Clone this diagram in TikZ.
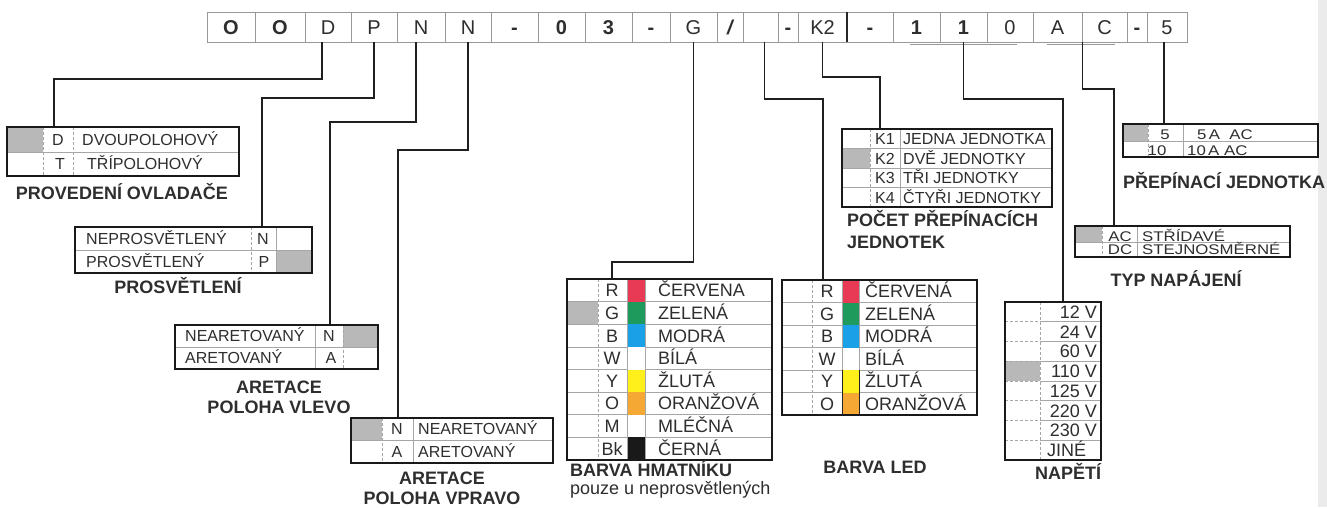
\documentclass[tikz,border=0pt]{standalone}
\usepackage{fontspec}
\setmainfont{Liberation Sans}
\newfontfamily\wideff[FakeStretch=1.2]{Liberation Sans}
\definecolor{swred}{HTML}{E83A55}
\definecolor{swgreen}{HTML}{1E9A5C}
\definecolor{swblue}{HTML}{1AA0E6}
\definecolor{swyellow}{HTML}{FFEF1A}
\definecolor{sworange}{HTML}{F5A833}
\begin{document}
\begin{tikzpicture}[x=1pt,y=-1pt,
  cell/.style={draw=black!40, line width=0.8pt, minimum height=30pt, inner sep=0pt,
    font=\fontsize{20}{20}\selectfont, text height=14.3pt, text depth=0pt, text=black!82},
  tbl/.style={draw=black!90, line width=1.8pt, inner sep=0pt},
  div/.style={draw=black!35, line width=0.7pt},
  ddiv/.style={draw=black!35, line width=0.7pt, densely dashed},
  shade/.style={fill=black!28},
  conn/.style={draw=black!88, line width=1.3pt},
  ttl/.style={font=\bfseries\fontsize{18}{20}\selectfont, text=black!82, inner sep=0pt, text height=12.9pt, text depth=0pt},
  tx/.style={font=\fontsize{16}{16}\selectfont, text=black!82, inner sep=0pt, text height=11.5pt, text depth=0pt},
  tl/.style={font=\fontsize{18}{18}\selectfont, text=black!82, inner sep=0pt, text height=12.9pt, text depth=0pt},
  tw/.style={font=\wideff\fontsize{14}{14}\selectfont, text=black!82, inner sep=0pt, text height=10pt, text depth=0pt},
]
\useasboundingbox (0,0) rectangle (1327,507);
\fill[white] (0,0) rectangle (1327,507);
\fill[black!8] (1318,0) rectangle (1327,507);

% ---------- code bar ----------
\foreach \i/\x/\w/\t in {1/231/48/\textbf{O}, 2/280/50/\textbf{O}, 3/328/46/D, 4/374/46/P,
  5/421/48/N, 6/468/46/N, 7/514.5/47/\textbf{-}, 8/561.5/47/\textbf{0}, 9/608.5/47/\textbf{3},
  10/651/38/\textbf{-}, 11/693.5/47/G, 13/760.5/35/{}, 14/788/20/\textbf{-}, 15/822.5/49/K2,
  16/870/46/\textbf{-}, 17/916.5/47/\textbf{1}, 18/963.5/47/\textbf{1}, 19/1010/46/0,
  20/1057.5/49/A, 21/1104.5/45/C, 22/1137/20/\textbf{-}, 23/1167/40/5}
  \node[cell, minimum width=\w pt] (c\i) at (\x,27) {\t};
\node[cell, minimum width=26pt] (c12) at (730,27) {\bfseries\itshape /};
\draw[black!85, line width=1.6pt] (847,12) -- (847,42);
\draw[black!40, line width=0.8pt] (910,44.5) -- (1017,44.5);
\draw[black!40, line width=0.8pt] (1047,44) -- (1115,44);

% ---------- T1 PROVEDENI OVLADACE ----------
\fill[shade] (8,128) rectangle (43,152);
\draw[div] (7,152) -- (239,152);
\draw[ddiv] (43,127) -- (43,176);
\draw[ddiv] (73,127) -- (73,176);
\node[tbl, minimum width=232pt, minimum height=49pt] (t1) at (123,151.5) {};
\node[tx] (t1a) at (58,139.5) {D};
\node[tx] (t1b) at (60,164) {T};
\node[tx, anchor=west] (t1c) at (82,139.5) {DVOUPOLOHOVÝ};
\node[tx, anchor=west] (t1d) at (87,164) {TŘÍPOLOHOVÝ};
\node[ttl] (h1) at (122,193) {PROVEDENÍ OVLADAČE};

% ---------- T2 PROSVETLENI ----------
\fill[shade] (276,251) rectangle (311,272);
\draw[div] (75,250) -- (312,250);
\draw[ddiv] (251,227) -- (251,273);
\draw[div] (276,227) -- (276,273);
\node[tbl, minimum width=237pt, minimum height=46pt] (t2) at (193.5,250) {};
\node[tx, anchor=west] (t2a) at (86,238.5) {NEPROSVĚTLENÝ};
\node[tx, anchor=west] (t2b) at (86,261.5) {PROSVĚTLENÝ};
\node[tx] (t2c) at (263,238.5) {N};
\node[tx] (t2d) at (264,261.5) {P};
\node[ttl] (h2) at (178,287) {PROSVĚTLENÍ};

% ---------- T3 ARETACE VLEVO ----------
\fill[shade] (343,326) rectangle (377,347);
\draw[div] (175,347) -- (378,347);
\draw[div] (315,325) -- (315,369);
\draw[ddiv] (343,325) -- (343,369);
\node[tbl, minimum width=203pt, minimum height=44pt] (t3) at (276.5,347) {};
\node[tx, anchor=west] (t3a) at (185,336) {NEARETOVANÝ};
\node[tx, anchor=west] (t3b) at (185,358) {ARETOVANÝ};
\node[tx] (t3c) at (329,336) {N};
\node[tx] (t3d) at (331,358) {A};
\node[ttl] (h3a) at (279,387) {ARETACE};
\node[ttl] (h3b) at (279,407) {POLOHA VLEVO};

% ---------- T4 ARETACE VPRAVO ----------
\fill[shade] (352,419) rectangle (382,440);
\draw[div] (351,440) -- (553,440);
\draw[ddiv] (382,418) -- (382,463);
\draw[div] (413,418) -- (413,463);
\node[tbl, minimum width=202pt, minimum height=45pt] (t4) at (452,440.5) {};
\node[tx] (t4a) at (397,429) {N};
\node[tx] (t4b) at (397,451.5) {A};
\node[tx, anchor=west] (t4c) at (418,429) {NEARETOVANÝ};
\node[tx, anchor=west] (t4d) at (418,451.5) {ARETOVANÝ};
\node[ttl] (h4a) at (442,478) {ARETACE};
\node[ttl] (h4b) at (442,498) {POLOHA VPRAVO};

% ---------- T5 BARVA HMATNIKU ----------
\fill[shade] (568,301.6) rectangle (598,324.2);
\foreach \k in {1,...,7} \draw[div] (567,{279+\k*22.625}) -- (772,{279+\k*22.625});
\draw[ddiv] (598,279) -- (598,460);
\foreach \k/\c in {0/swred, 1/swgreen, 2/swblue, 3/white, 4/swyellow, 5/sworange, 6/white, 7/black!90}
  \fill[\c] (627,{279+\k*22.625}) rectangle (645,{279+(\k+1)*22.625});
\draw[div] (627,279) -- (627,460);
\draw[div] (645,279) -- (645,460);
\node[tbl, minimum width=205pt, minimum height=181pt] (t5) at (669.5,369.5) {};
\foreach \k/\l/\t in {0/R/ČERVENA, 1/G/ZELENÁ, 2/B/MODRÁ, 3/W/BÍLÁ, 4/Y/ŽLUTÁ,
  5/O/ORANŽOVÁ, 6/M/MLÉČNÁ, 7/Bk/ČERNÁ} {
  \node[tl] (t5l\k) at (612,{279+(\k+0.5)*22.625}) {\l};
  \node[tl, anchor=west] (t5t\k) at (658,{279+(\k+0.5)*22.625}) {\t};
}
\node[ttl, anchor=west] (h5) at (570,470) {BARVA HMATNÍKU};
\node[tl, anchor=west] (h5b) at (570,488) {pouze u neprosvětlených};

% ---------- T6 BARVA LED ----------
\foreach \k in {1,...,5} \draw[div] (782,{280+\k*22.5}) -- (977,{280+\k*22.5});
\draw[ddiv] (812,280) -- (812,415);
\foreach \k/\c in {0/swred, 1/swgreen, 2/swblue, 3/white, 4/swyellow, 5/sworange}
  \fill[\c] (842,{280+\k*22.5}) rectangle (859,{280+(\k+1)*22.5});
\draw[div] (842,280) -- (842,415);
\draw[div] (859,280) -- (859,415);
\draw[black!85, line width=1pt] (842,370) -- (842,415) (859,370) -- (859,415);
\node[tbl, minimum width=195pt, minimum height=135pt] (t6) at (879.5,347.5) {};
\foreach \k/\l/\t in {0/R/ČERVENÁ, 1/G/ZELENÁ, 2/B/MODRÁ, 3/W/BÍLÁ, 4/Y/ŽLUTÁ, 5/O/ORANŽOVÁ} {
  \node[tl] (t6l\k) at (827,{280+(\k+0.5)*22.5}) {\l};
  \node[tl, anchor=west] (t6t\k) at (865,{280+(\k+0.5)*22.5}) {\t};
}
\node[ttl] (h6) at (875,467) {BARVA LED};

% ---------- T7 POCET PREPINACICH JEDNOTEK ----------
\fill[shade] (843,148.5) rectangle (870,168);
\foreach \k in {1,2,3} \draw[div] (842,{129+\k*19.5}) -- (1052,{129+\k*19.5});
\draw[ddiv] (870,129) -- (870,207);
\draw[div] (900,129) -- (900,207);
\node[tbl, minimum width=210pt, minimum height=78pt] (t7) at (947,168) {};
\foreach \k/\l/\t in {0/K1/JEDNA JEDNOTKA, 1/K2/DVĚ JEDNOTKY, 2/K3/TŘI JEDNOTKY, 3/K4/ČTYŘI JEDNOTKY} {
  \node[tx] (t7l\k) at (885,{129+(\k+0.5)*19.5}) {\l};
  \node[tx, anchor=west] (t7t\k) at (903,{129+(\k+0.5)*19.5}) {\t};
}
\node[ttl, anchor=west] (h7a) at (847,220) {POČET PŘEPÍNACÍCH};
\node[ttl, anchor=west] (h7b) at (847,242) {JEDNOTEK};

% ---------- T8 PREPINACI JEDNOTKA ----------
\fill[shade] (1124,125) rectangle (1148,141);
\draw[div] (1123,141) -- (1318,141);
\draw[ddiv] (1148,124) -- (1148,157);
\draw[div] (1183,124) -- (1183,157);
\node[tbl, minimum width=195pt, minimum height=33pt] (t8) at (1220.5,140.5) {};
\node[tw] (t8a) at (1165,134) {5};
\node[tw] (t8b) at (1157,150) {10};
\node[tw, anchor=west] (t8c) at (1197,134) {5\,A\ \ AC};
\node[tw, anchor=west] (t8d) at (1187,150) {10\,A\ AC};
\node[ttl, anchor=west] (h8) at (1123,182) {PŘEPÍNACÍ JEDNOTKA};

% ---------- T9 TYP NAPAJENI ----------
\fill[shade] (1076,227) rectangle (1102,242);
\draw[div] (1075,242) -- (1290,242);
\draw[ddiv] (1102,226) -- (1102,257);
\draw[div] (1137,226) -- (1137,257);
\node[tbl, minimum width=215pt, minimum height=31pt] (t9) at (1182.5,241.5) {};
\node[tw] (t9a) at (1120,236) {AC};
\node[tw] (t9b) at (1120,249.5) {DC};
\node[tw, anchor=west] (t9c) at (1142,236) {STŘÍDAVÉ};
\node[tw, anchor=west] (t9d) at (1142,249.5) {STEJNOSMĚRNÉ};
\node[ttl] (h9) at (1176,280) {TYP NAPÁJENÍ};

% ---------- T10 NAPETI ----------
\fill[shade] (1006,361.25) rectangle (1040,381);
\foreach \k in {1,...,7} {
  \draw[ddiv] (1005,{302+\k*19.75}) -- (1040,{302+\k*19.75});
  \draw[div] (1040,{302+\k*19.75}) -- (1101,{302+\k*19.75});
}
\draw[ddiv] (1040,302) -- (1040,460);
\node[tbl, minimum width=96pt, minimum height=158pt] (t10) at (1053,381) {};
\foreach \k/\t in {0/12 V, 1/24 V, 2/60 V, 3/110 V, 4/125 V, 5/220 V, 6/230 V}
  \node[tl, anchor=east] (t10v\k) at (1097,{302+(\k+0.5)*19.75}) {\t};
\node[tl, anchor=west] (t10v7) at (1047,{302+7.5*19.75}) {JINÉ};
\node[ttl] (h10) at (1068,473) {NAPĚTÍ};

% ---------- connectors ----------
\coordinate (j1) at (54,79);
\coordinate (j2) at (262,98);
\coordinate (j3) at (330,122);
\coordinate (j4) at (398,150);
\coordinate (j5) at (612,262);
\coordinate (j6) at (823,99);
\coordinate (j7) at (880,77);
\coordinate (j8) at (1063,99);
\coordinate (j9) at (1114,89);
\draw[conn] ([xshift=-6pt]c3.south) |- (j1) -- (j1 |- t1.north);
\draw[conn] (c4.south) |- (j2) -- (j2 |- t2.north);
\draw[conn] ([xshift=-5pt]c5.south) |- (j3) -- (j3 |- t3.north);
\draw[conn] (c6.south) |- (j4) -- (j4 |- t4.north);
\draw[conn] (c11.south) |- (j5) -- (j5 |- t5.north);
\draw[conn] ([xshift=4pt]c13.south) |- (j6) -- (j6 |- t6.north);
\draw[conn] (c15.south) |- (j7) -- (j7 |- t7.north);
\draw[conn] (c18.south) |- (j8) -- (j8 |- t10.north);
\draw[conn] (c20.south east) |- (j9) -- (j9 |- t9.north);
\draw[conn] ([xshift=-3pt]c23.south) -- ([xshift=-3pt]c23.south |- t8.north);
\end{tikzpicture}
\end{document}
